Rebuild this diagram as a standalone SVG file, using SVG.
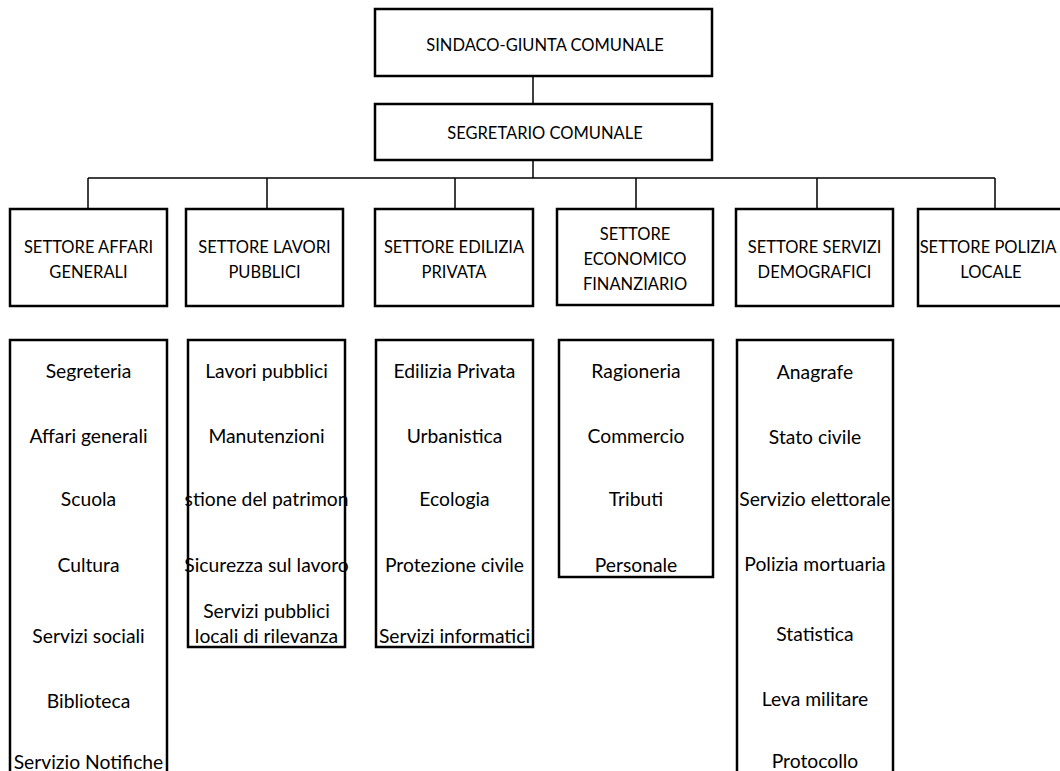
<svg xmlns="http://www.w3.org/2000/svg" width="1060" height="771" viewBox="0 0 1060 771">
<style>
.box{fill:#fff;stroke:#000;stroke-width:2.5}
.ln{stroke:#000;stroke-width:1.5;fill:none}
text{font-family:Lato,"Liberation Sans",sans-serif;font-size:19.3px;fill:#000;text-anchor:middle}
text.cap{font-size:16.5px}
</style>
<rect width="1060" height="771" fill="#fff"/>
<g id="connectors">
<line class="ln" x1="533" y1="76" x2="533" y2="104"/>
<line class="ln" x1="533" y1="160" x2="533" y2="178"/>
<line class="ln" x1="88" y1="178" x2="995" y2="178"/>
<line class="ln" x1="88" y1="178" x2="88" y2="209"/>
<line class="ln" x1="267" y1="178" x2="267" y2="209"/>
<line class="ln" x1="455" y1="178" x2="455" y2="209"/>
<line class="ln" x1="636" y1="178" x2="636" y2="209"/>
<line class="ln" x1="817" y1="178" x2="817" y2="209"/>
<line class="ln" x1="995" y1="178" x2="995" y2="209"/>
</g>
<g id="sindaco">
<rect class="box" x="375" y="9" width="337" height="67"/>
<text class="cap" x="545" y="51">SINDACO-GIUNTA COMUNALE</text>
</g>
<g id="segretario">
<rect class="box" x="375" y="104" width="337" height="56"/>
<text class="cap" x="545" y="139">SEGRETARIO COMUNALE</text>
</g>
<g id="s-affari">
<rect class="box" x="10" y="209" width="157" height="97"/>
<text class="cap" x="88.5" y="253">SETTORE AFFARI</text>
<text class="cap" x="88.5" y="278">GENERALI</text>
</g>
<g id="s-lavori">
<rect class="box" x="186" y="209" width="157" height="97"/>
<text class="cap" x="264.5" y="253">SETTORE LAVORI</text>
<text class="cap" x="264.5" y="278">PUBBLICI</text>
</g>
<g id="s-edilizia">
<rect class="box" x="375" y="209" width="158" height="97"/>
<text class="cap" x="454" y="253">SETTORE EDILIZIA</text>
<text class="cap" x="454" y="278">PRIVATA</text>
</g>
<g id="s-economico">
<rect class="box" x="557" y="209" width="156" height="96"/>
<text class="cap" x="635" y="240">SETTORE</text>
<text class="cap" x="635" y="265">ECONOMICO</text>
<text class="cap" x="635" y="290">FINANZIARIO</text>
</g>
<g id="s-demografici">
<rect class="box" x="736" y="209" width="157" height="97"/>
<text class="cap" x="814.5" y="253">SETTORE SERVIZI</text>
<text class="cap" x="814.5" y="278">DEMOGRAFICI</text>
</g>
<g id="s-polizia">
<rect class="box" x="918" y="209" width="157" height="97"/>
<text class="cap" x="988" y="253">SETTORE POLIZIA</text>
<text class="cap" x="991" y="278">LOCALE</text>
</g>
<g id="u-affari">
<rect class="box" x="10" y="340" width="157" height="460"/>
<text x="88.5" y="378">Segreteria</text>
<text x="88.5" y="443">Affari generali</text>
<text x="88.5" y="506">Scuola</text>
<text x="88.5" y="572">Cultura</text>
<text x="88.5" y="643">Servizi sociali</text>
<text x="88.5" y="708">Biblioteca</text>
<text x="88.5" y="769">Servizio Notifiche</text>
</g>
<g id="u-lavori">
<rect class="box" x="188" y="340" width="157" height="307"/>
<text x="266.5" y="378">Lavori pubblici</text>
<text x="266.5" y="443">Manutenzioni</text>
<text x="266.5" y="506">stione del patrimon</text>
<text x="266.5" y="572">Sicurezza sul lavoro</text>
<text x="266.5" y="618">Servizi pubblici</text>
<text x="266.5" y="643">locali di rilevanza</text>
</g>
<g id="u-edilizia">
<rect class="box" x="376" y="340" width="157" height="307"/>
<text x="454.5" y="378">Edilizia Privata</text>
<text x="454.5" y="443">Urbanistica</text>
<text x="454.5" y="506">Ecologia</text>
<text x="454.5" y="572">Protezione civile</text>
<text x="454.5" y="643">Servizi informatici</text>
</g>
<g id="u-economico">
<rect class="box" x="559" y="340" width="154" height="237"/>
<text x="636" y="378">Ragioneria</text>
<text x="636" y="443">Commercio</text>
<text x="636" y="506">Tributi</text>
<text x="636" y="572">Personale</text>
</g>
<g id="u-demografici">
<rect class="box" x="737" y="340" width="156" height="460"/>
<text x="815" y="379">Anagrafe</text>
<text x="815" y="444">Stato civile</text>
<text x="815" y="506">Servizio elettorale</text>
<text x="815" y="571">Polizia mortuaria</text>
<text x="815" y="641">Statistica</text>
<text x="815" y="706">Leva militare</text>
<text x="815" y="768">Protocollo</text>
</g>
</svg>
